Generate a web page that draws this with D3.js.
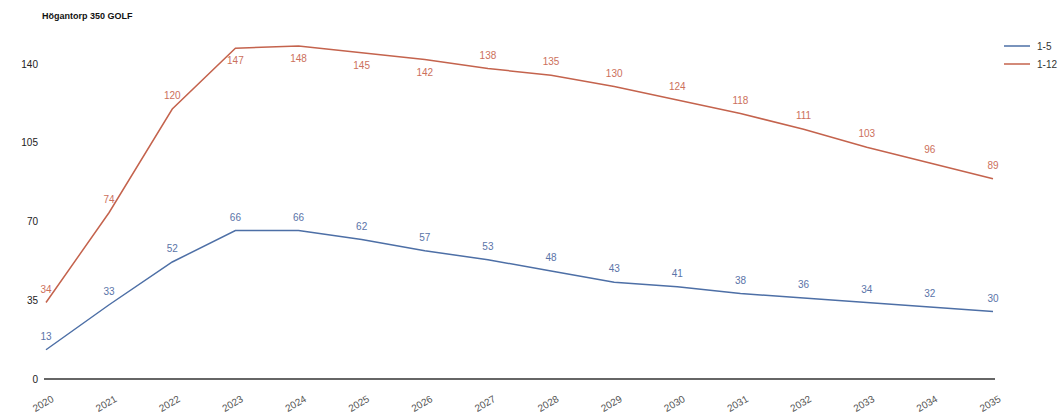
<!DOCTYPE html>
<html>
<head>
<meta charset="utf-8">
<script src="https://cdn.jsdelivr.net/npm/d3@7"></script>
<style>
body{margin:0;background:#fff;}
text{font-family:"Liberation Sans",Arial,sans-serif;}
</style>
</head>
<body>
<div id="chart"></div>
<script>
var years = ["2020","2021","2022","2023","2024","2025","2026","2027","2028","2029","2030","2031","2032","2033","2034","2035"];
var serie15 = [13,33,52,66,66,62,57,53,48,43,41,38,36,34,32,30];
var serie112 = [34,74,120,147,148,145,142,138,135,130,124,118,111,103,96,89];
var yTicks = [0,35,70,105,140];

var W=1064, H=416;
var svg = d3.select("#chart").append("svg")
            .attr("width",W).attr("height",H);

var x = d3.scalePoint().domain(years).range([46,993]);
var y = d3.scaleLinear().domain([0,140]).range([379,64]);

//titel
svg.append("text").attr("x",42).attr("y",19)
   .attr("font-size",9).attr("font-weight","bold").attr("fill","#111")
   .text("Högantorp 350 GOLF");

//y-axel
var yAxis = d3.axisLeft(y).tickValues(yTicks).tickSize(0).tickPadding(0);
var gy = svg.append("g").attr("transform","translate(38,0)").call(yAxis);
gy.select(".domain").remove();
gy.selectAll("text").attr("font-size",10).attr("fill","#222");

//x-axel
var xAxis = d3.axisBottom(x).tickSize(0).tickPadding(0);
var gx = svg.append("g").attr("transform","translate(0,379)").call(xAxis);
gx.select(".domain").attr("d","M44,0H995").attr("stroke","#333").attr("stroke-width",1.5);
gx.selectAll("text")
  .attr("font-size",10).attr("fill","#555")
  .attr("text-anchor","end")
  .attr("dy",0)
  .attr("transform","translate(8,22) rotate(-30)");

var series = [
  {name:"1-5", values:serie15, color:"#4d6fa6", label:"#5a74a8"},
  {name:"1-12", values:serie112, color:"#c4634d", label:"#cc705c"}
];

var line = d3.line().x(function(d,i){return x(years[i]);}).y(function(d){return y(d);});

series.forEach(function(s){
  svg.append("path").datum(s.values)
     .attr("d",line).attr("fill","none")
     .attr("stroke",s.color).attr("stroke-width",1.5);

  svg.selectAll(null).data(s.values).enter().append("text")
     .attr("x",function(d,i){return x(years[i]);})
     .attr("y",function(d){ var py=y(d); return py<y(140) ? py+16 : py-10; })
     .attr("text-anchor","middle")
     .attr("font-size",10).attr("fill",s.label)
     .text(function(d){return d;});
});

//legend
series.forEach(function(s,i){
  var ly = 46 + i*18;
  svg.append("line").attr("x1",1004).attr("x2",1030).attr("y1",ly).attr("y2",ly)
     .attr("stroke",s.color).attr("stroke-width",1.5);
  svg.append("text").attr("x",1037).attr("y",ly+3.5)
     .attr("font-size",10).attr("fill","#333").text(s.name);
});
</script>
</body>
</html>
